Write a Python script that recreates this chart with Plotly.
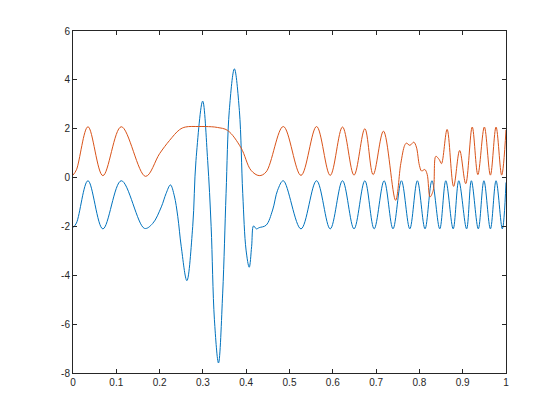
import plotly.graph_objects as go

# Blue series (extrema and steep-section points)
blue_t = [0, 0.008, 0.0346, 0.069, 0.1115, 0.165, 0.184, 0.204, 0.215, 0.225, 0.234,
          0.242, 0.25, 0.263, 0.2765, 0.284, 0.2995, 0.311, 0.319, 0.3266, 0.336,
          0.3457, 0.3535, 0.361, 0.3727, 0.3842, 0.392, 0.3997, 0.407, 0.4125, 0.417,
          0.4235, 0.430, 0.446, 0.461, 0.4725, 0.4857, 0.5265, 0.5625, 0.594, 0.6224,
          0.649, 0.674, 0.6955, 0.7185, 0.739, 0.7585, 0.7778, 0.7953, 0.813, 0.829,
          0.847, 0.861, 0.878, 0.891, 0.909, 0.92, 0.936, 0.949, 0.964, 0.977,
          0.9915, 1.0]
blue_v = [-2.05, -1.86, -0.13, -2.1, -0.13, -2.08, -1.88, -1.2, -0.65, -0.3, -0.75,
          -1.6, -2.83, -4.22, -2.0, 0.7, 3.13, 0.7, -2.0, -5.82, -7.59,
          -4.73, -0.65, 2.75, 4.45, 2.75, -0.65, -2.97, -3.67, -2.83, -1.98,
          -2.1, -2.05, -1.95, -1.33, -0.52, -0.13, -2.1, -0.13, -2.1, -0.13,
          -2.1, -0.13, -2.1, -0.13, -2.1, -0.13, -2.1, -0.13, -2.1, -0.13,
          -2.1, -0.13, -2.1, -0.13, -2.1, -0.13, -2.1, -0.13, -2.1, -0.13,
          -2.1, -0.2]

# Orange series
orange_t = [0, 0.008, 0.0346, 0.069, 0.1115, 0.1675, 0.2, 0.223, 0.246, 0.26, 0.29,
            0.32, 0.334, 0.357, 0.388, 0.411, 0.430, 0.446, 0.4857, 0.5265, 0.5625,
            0.594, 0.6224, 0.649, 0.674, 0.6932, 0.717, 0.745, 0.757, 0.766, 0.77,
            0.778, 0.787, 0.793, 0.80, 0.805, 0.8125, 0.818, 0.8245, 0.832, 0.838,
            0.846, 0.851, 0.864, 0.879, 0.893, 0.907, 0.922, 0.935, 0.95, 0.964,
            0.977, 0.99, 1.0]
orange_v = [0.1, 0.32, 2.08, 0.08, 2.08, 0.05, 0.98, 1.52, 1.96, 2.07, 2.09,
            2.08, 2.05, 1.93, 1.22, 0.3, 0.08, 0.23, 2.09, 0.09, 2.09,
            0.09, 2.07, 0.1, 2.0, 0.12, 1.9, -0.93, 0.57, 1.32, 1.41,
            1.32, 1.45, 1.25, 0.5, 0.27, 0.33, 0.13, -0.79, -0.52, 0.87,
            0.73, 0.57, 1.97, -0.36, 1.11, -0.25, 2.07, 0.12, 2.07, 0.1,
            2.07, 0.1, 1.95]

x_ticks = [0, 0.1, 0.2, 0.3, 0.4, 0.5, 0.6, 0.7, 0.8, 0.9, 1]
x_labels = ["0", "0.1", "0.2", "0.3", "0.4", "0.5", "0.6", "0.7", "0.8", "0.9", "1"]
y_ticks = [-8, -6, -4, -2, 0, 2, 4, 6]
y_labels = ["-8", "-6", "-4", "-2", "0", "2", "4", "6"]

fig = go.Figure()
fig.add_trace(go.Scatter(x=blue_t, y=blue_v, mode="lines",
                         line=dict(color="#0072BD", width=1, shape="spline", smoothing=1),
                         showlegend=False, hoverinfo="skip"))
fig.add_trace(go.Scatter(x=orange_t, y=orange_v, mode="lines",
                         line=dict(color="#D95319", width=1, shape="spline", smoothing=1),
                         showlegend=False, hoverinfo="skip"))

axis_common = dict(showgrid=False, zeroline=False, showline=True, linecolor="#262626",
                   linewidth=1, mirror="ticks", ticks="inside", ticklen=4,
                   tickcolor="#262626", tickwidth=1,
                   tickfont=dict(family="Liberation Sans, Arial, sans-serif", size=10,
                                 color="#262626"))

fig.update_layout(
    width=560, height=420,
    margin=dict(l=65, r=62, t=23, b=55),
    paper_bgcolor="white", plot_bgcolor="white",
    xaxis=dict(range=[0, 1], tickvals=x_ticks, ticktext=x_labels, **axis_common),
    yaxis=dict(range=[-8, 6], tickvals=y_ticks, ticktext=y_labels, **axis_common),
)
fig.write_html("out.html")
